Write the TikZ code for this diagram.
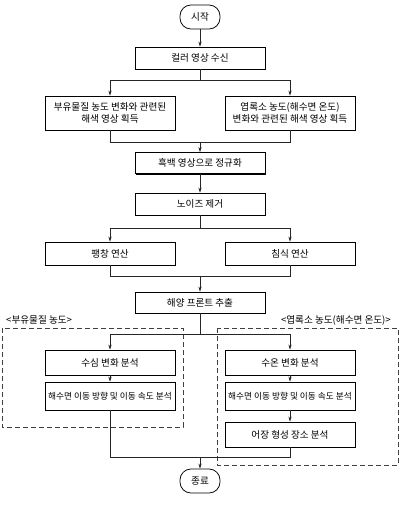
\documentclass[tikz,border=0pt]{standalone}
\usepackage{fontspec}
\setmainfont{Noto Sans CJK KR}
\usetikzlibrary{arrows.meta,shadows,positioning}
\begin{document}
\begin{tikzpicture}[x=1pt,y=-1pt,
  font=\fontsize{9.6}{11.5}\selectfont,
  procbox/.style={draw,line width=0.75pt,fill=white,minimum width=130pt,align=center,inner sep=1pt,
    drop shadow={shadow xshift=1.2pt,shadow yshift=-1.2pt,fill=black,opacity=1}},
  term/.style={draw,line width=0.75pt,rounded corners=11pt,minimum width=40pt,minimum height=24pt,inner sep=1pt},
  conn/.style={line width=0.65pt,draw=black!85},
  arr/.style={conn,-{Stealth[length=5pt,width=3.2pt]}},
  dbox/.style={draw=black!75,line width=0.75pt,dash pattern=on 5pt off 3pt},
  grp/.style={inner sep=0pt},
  longtxt/.style={font=\fontsize{8.7}{10}\selectfont}
]
\useasboundingbox (0,0) rectangle (400,509);
% group frames
\draw[dbox] (2,328) rectangle (183,427);
\draw[dbox] (217,328) rectangle (398,465);
\node[grp,anchor=west] (gL) at (6,320) {<부유물질 농도>};
\node[grp,anchor=east] (gR) at (391,320) {<엽록소 농도(해수면 온도)>};
% nodes
\node[term] (start) at (200,17) {시작};
\node[procbox,minimum height=22pt] (recv) at (200,58) {컬러 영상 수신};
\node[procbox,minimum height=34pt] (aL) at (110,113) {부유물질 농도 변화와 관련된\\해색 영상 획득};
\node[procbox,minimum height=34pt] (aR) at (290,113) {엽록소 농도(해수면 온도)\\변화와 관련된 해색 영상 획득};
\node[procbox,minimum height=21pt] (norm) at (200,163) {흑백 영상으로 정규화};
\node[procbox,minimum height=22pt] (noise) at (200,204) {노이즈 제거};
\node[procbox,minimum height=23pt] (dil) at (110,253.5) {팽창 연산};
\node[procbox,minimum height=23pt] (ero) at (290,253.5) {침식 연산};
\node[procbox,minimum height=21pt] (front) at (200,302.5) {해양 프론트 추출};
\node[procbox,minimum height=25pt] (depth) at (110,362.5) {수심 변화 분석};
\node[procbox,minimum height=28pt,longtxt] (mvL) at (110,396) {해수면 이동 방향 및 이동 속도 분석};
\node[procbox,minimum height=25pt] (temp) at (290,362.5) {수온 변화 분석};
\node[procbox,minimum height=28pt,longtxt] (mvR) at (290,396) {해수면 이동 방향 및 이동 속도 분석};
\node[procbox,minimum height=25pt] (fish) at (290,434.5) {어장 형성 장소 분석};
\node[term] (end) at (200,481) {종료};
% junction points
\coordinate (s1) at (200,80);
\coordinate (m1) at (200,142);
\coordinate (s2) at (200,228);
\coordinate (m2) at (200,276);
\coordinate (s3) at (200,334);
\coordinate (m3) at (200,457);
% connectors
\draw[arr] (start) -- (recv);
\draw[conn] (recv) -- (s1);
\draw[arr] (s1) -| (aL);
\draw[arr] (s1) -| (aR);
\draw[conn] (aL) |- (m1);
\draw[conn] (aR) |- (m1);
\draw[arr] (m1) -- (norm);
\draw[arr] (norm) -- (noise);
\draw[conn] (noise) -- (s2);
\draw[arr] (s2) -| (dil);
\draw[arr] (s2) -| (ero);
\draw[conn] (dil) |- (m2);
\draw[conn] (ero) |- (m2);
\draw[arr] (m2) -- (front);
\draw[conn] (front) -- (s3);
\draw[arr] (s3) -| (depth);
\draw[arr] (s3) -| (temp);
\draw[arr] (depth) -- (mvL);
\draw[arr] (temp) -- (mvR);
\draw[arr] (mvR) -- (fish);
\draw[conn] (mvL) |- (m3);
\draw[conn] (fish) |- (m3);
\draw[arr] (m3) -- (end);
\end{tikzpicture}
\end{document}
